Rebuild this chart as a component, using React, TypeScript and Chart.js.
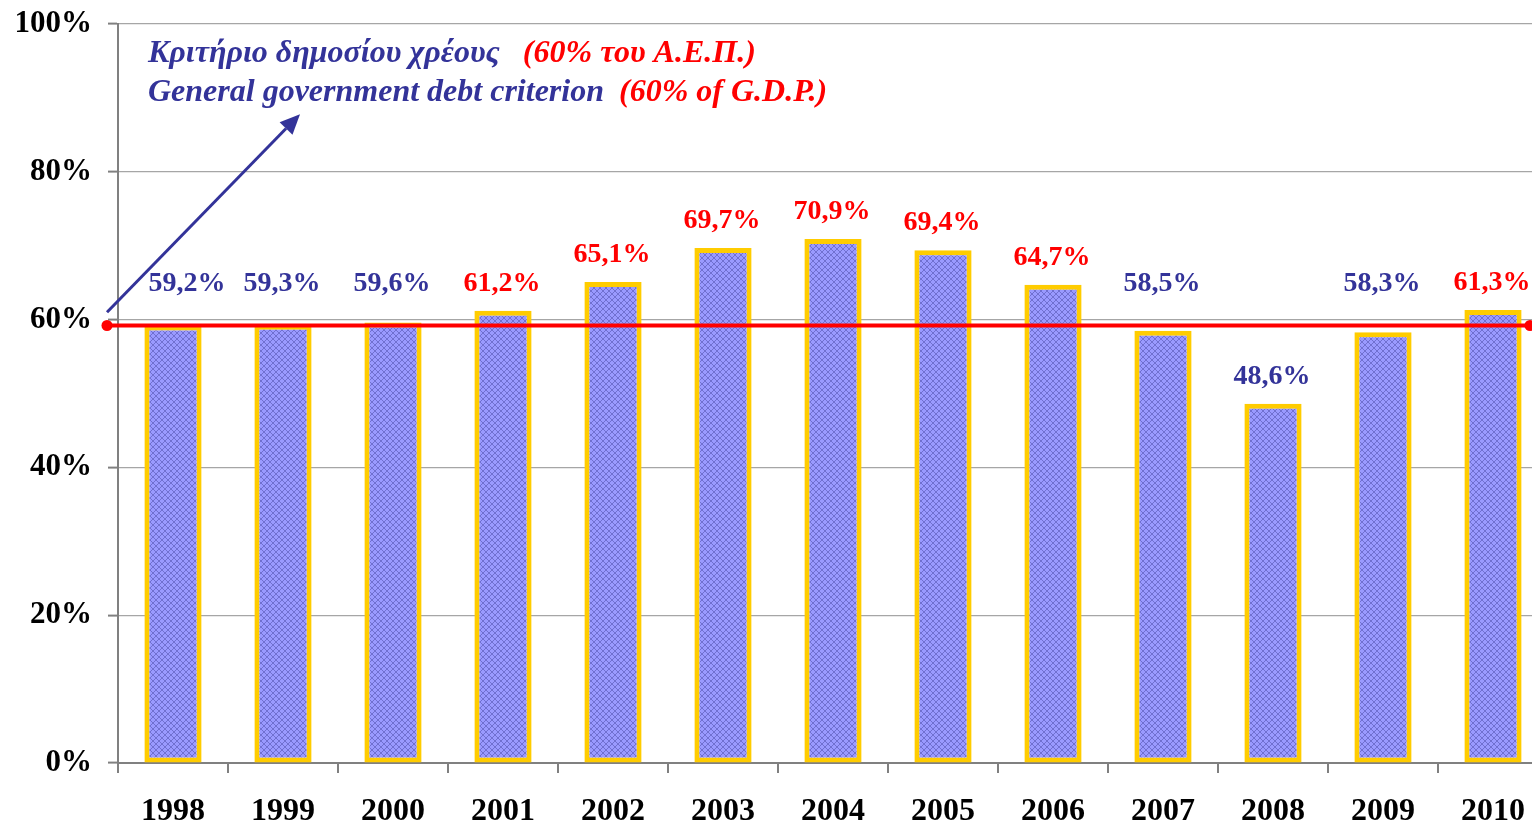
import React, { useEffect, useRef } from "react";
import { Chart, registerables } from "chart.js";

Chart.register(...registerables);

const years = ["1998", "1999", "2000", "2001", "2002", "2003", "2004", "2005", "2006", "2007", "2008", "2009", "2010"];
const debtRatio = [59.2, 59.3, 59.6, 61.2, 65.1, 69.7, 70.9, 69.4, 64.7, 58.5, 48.6, 58.3, 61.3];
const valueLabels = ["59,2%", "59,3%", "59,6%", "61,2%", "65,1%", "69,7%", "70,9%", "69,4%", "64,7%", "58,5%", "48,6%", "58,3%", "61,3%"];
const criterionThreshold = 60;
const criterionLineLevel = 59.2;
const yMin = 0;
const yMax = 100;
const yStep = 20;
const annotationGreek = ["Κριτήριο δημοσίου χρέους", "(60% του Α.Ε.Π.)"];
const annotationEnglish = ["General government debt criterion", "(60% of G.D.P.)"];

const BLUE = "#333399";
const RED = "#ff0000";
const SERIF = '"Liberation Serif", "Times New Roman", serif';

function makePattern(): CanvasPattern | string {
  const c = document.createElement("canvas");
  c.width = 6;
  c.height = 6;
  const g = c.getContext("2d");
  if (!g) return "#8888ee";
  g.fillStyle = "#9a9aff";
  g.fillRect(0, 0, 6, 6);
  g.strokeStyle = "#7070d0";
  g.lineWidth = 1;
  g.beginPath();
  g.moveTo(0, 0);
  g.lineTo(6, 6);
  g.moveTo(6, 0);
  g.lineTo(0, 6);
  g.stroke();
  const p = g.createPattern(c, "repeat");
  return p || "#8888ee";
}

const overlayPlugin = {
  id: "overlay",
  afterDatasetsDraw(chart: any) {
    const ctx = chart.ctx;
    const area = chart.chartArea;
    const yScale = chart.scales.y;
    // criterion line
    const ly = yScale.getPixelForValue(criterionLineLevel);
    const x0 = area.left - 11;
    const x1 = area.right - 18;
    ctx.save();
    ctx.strokeStyle = RED;
    ctx.lineWidth = 4;
    ctx.beginPath();
    ctx.moveTo(x0, ly);
    ctx.lineTo(x1, ly);
    ctx.stroke();
    ctx.fillStyle = RED;
    for (const x of [x0, x1]) {
      ctx.beginPath();
      ctx.arc(x, ly, 5.5, 0, Math.PI * 2);
      ctx.fill();
    }
    // value labels (kept clear of the criterion line)
    const meta = chart.getDatasetMeta(0);
    ctx.font = `bold 28px ${SERIF}`;
    ctx.textAlign = "center";
    ctx.textBaseline = "middle";
    meta.data.forEach((bar: any, i: number) => {
      ctx.fillStyle = debtRatio[i] > criterionThreshold ? RED : BLUE;
      const shift = i === 0 ? 14 : -1;
      let y = bar.y - 27;
      if (debtRatio[i] > criterionThreshold - 5 && debtRatio[i] < criterionThreshold + 2) {
        y = Math.min(y, ly - 42);
      }
      ctx.fillText(valueLabels[i], bar.x + shift, y);
    });
    // arrow
    const ax0 = area.left - 11;
    const ay0 = yScale.getPixelForValue(61.0);
    const ax1 = area.left + 182;
    const ay1 = yScale.getPixelForValue(87.8);
    const ang = Math.atan2(ay1 - ay0, ax1 - ax0);
    const headLen = 20;
    const headW = 9;
    ctx.strokeStyle = BLUE;
    ctx.fillStyle = BLUE;
    ctx.lineWidth = 3;
    ctx.beginPath();
    ctx.moveTo(ax0, ay0);
    ctx.lineTo(ax1 - headLen * Math.cos(ang), ay1 - headLen * Math.sin(ang));
    ctx.stroke();
    ctx.beginPath();
    ctx.moveTo(ax1, ay1);
    const bx = ax1 - headLen * Math.cos(ang);
    const by = ay1 - headLen * Math.sin(ang);
    ctx.lineTo(bx + headW * Math.sin(ang), by - headW * Math.cos(ang));
    ctx.lineTo(bx - headW * Math.sin(ang), by + headW * Math.cos(ang));
    ctx.closePath();
    ctx.fill();
    // annotation text
    ctx.font = `italic bold 32px ${SERIF}`;
    ctx.textAlign = "left";
    ctx.textBaseline = "alphabetic";
    const tx = area.left + 30;
    const rows = [
      { parts: annotationGreek, y: area.top + 38, gap: 23 },
      { parts: annotationEnglish, y: area.top + 77, gap: 15 },
    ];
    for (const r of rows) {
      ctx.fillStyle = BLUE;
      ctx.fillText(r.parts[0], tx, r.y);
      const w = ctx.measureText(r.parts[0]).width;
      ctx.fillStyle = RED;
      ctx.fillText(r.parts[1], tx + w + r.gap, r.y);
    }
    ctx.restore();
  },
};

export default function App() {
  const ref = useRef<HTMLCanvasElement | null>(null);

  useEffect(() => {
    if (!ref.current) return;
    const pattern = makePattern();
    const chart = new Chart(ref.current, {
      type: "bar",
      data: {
        labels: years,
        datasets: [
          {
            data: debtRatio,
            backgroundColor: pattern as any,
            borderColor: "#ffcc00",
            borderWidth: 5,
            borderSkipped: false,
            categoryPercentage: 1,
            barPercentage: 0.52,
          },
        ],
      },
      options: {
        animation: false,
        responsive: false,
        maintainAspectRatio: false,
        layout: { autoPadding: false, padding: { top: 24, right: 12, left: 0, bottom: 0 } },
        plugins: {
          legend: { display: false },
          tooltip: { enabled: false },
        },
        scales: {
          x: {
            offset: true,
            afterFit: (s: any) => {
              s.height = 63;
              s.paddingLeft = 0;
              s.paddingRight = 0;
            },
            border: { color: "#808080", width: 2 },
            grid: {
              offset: true,
              drawOnChartArea: false,
              drawTicks: true,
              tickLength: 10,
              color: "#808080",
              lineWidth: 2,
            },
            ticks: {
              color: "#000",
              font: { family: SERIF, size: 32, weight: "bold" },
              padding: 20,
              maxRotation: 0,
            },
          },
          y: {
            min: yMin,
            max: yMax,
            afterFit: (s: any) => {
              s.width = 118;
              s.paddingTop = 0;
              s.paddingBottom = 0;
            },
            border: { color: "#808080", width: 2 },
            grid: {
              color: "#a6a6a6",
              lineWidth: 1.2,
              tickLength: 10,
              tickColor: "#808080",
              tickWidth: 2,
            },
            ticks: {
              stepSize: yStep,
              color: "#000",
              font: { family: SERIF, size: 31, weight: "bold" },
              padding: 16,
              callback: (v: any) => `${v}%`,
            },
          },
        },
      },
      plugins: [overlayPlugin],
    });
    return () => chart.destroy();
  }, []);

  return (
    <div
      style={{
        position: "fixed",
        left: 0,
        top: 0,
        width: 1532,
        height: 826,
        overflow: "hidden",
        background: "#fff",
      }}
    >
      <canvas ref={ref} width={1560} height={826} style={{ width: 1560, height: 826, display: "block" }} />
    </div>
  );
}
